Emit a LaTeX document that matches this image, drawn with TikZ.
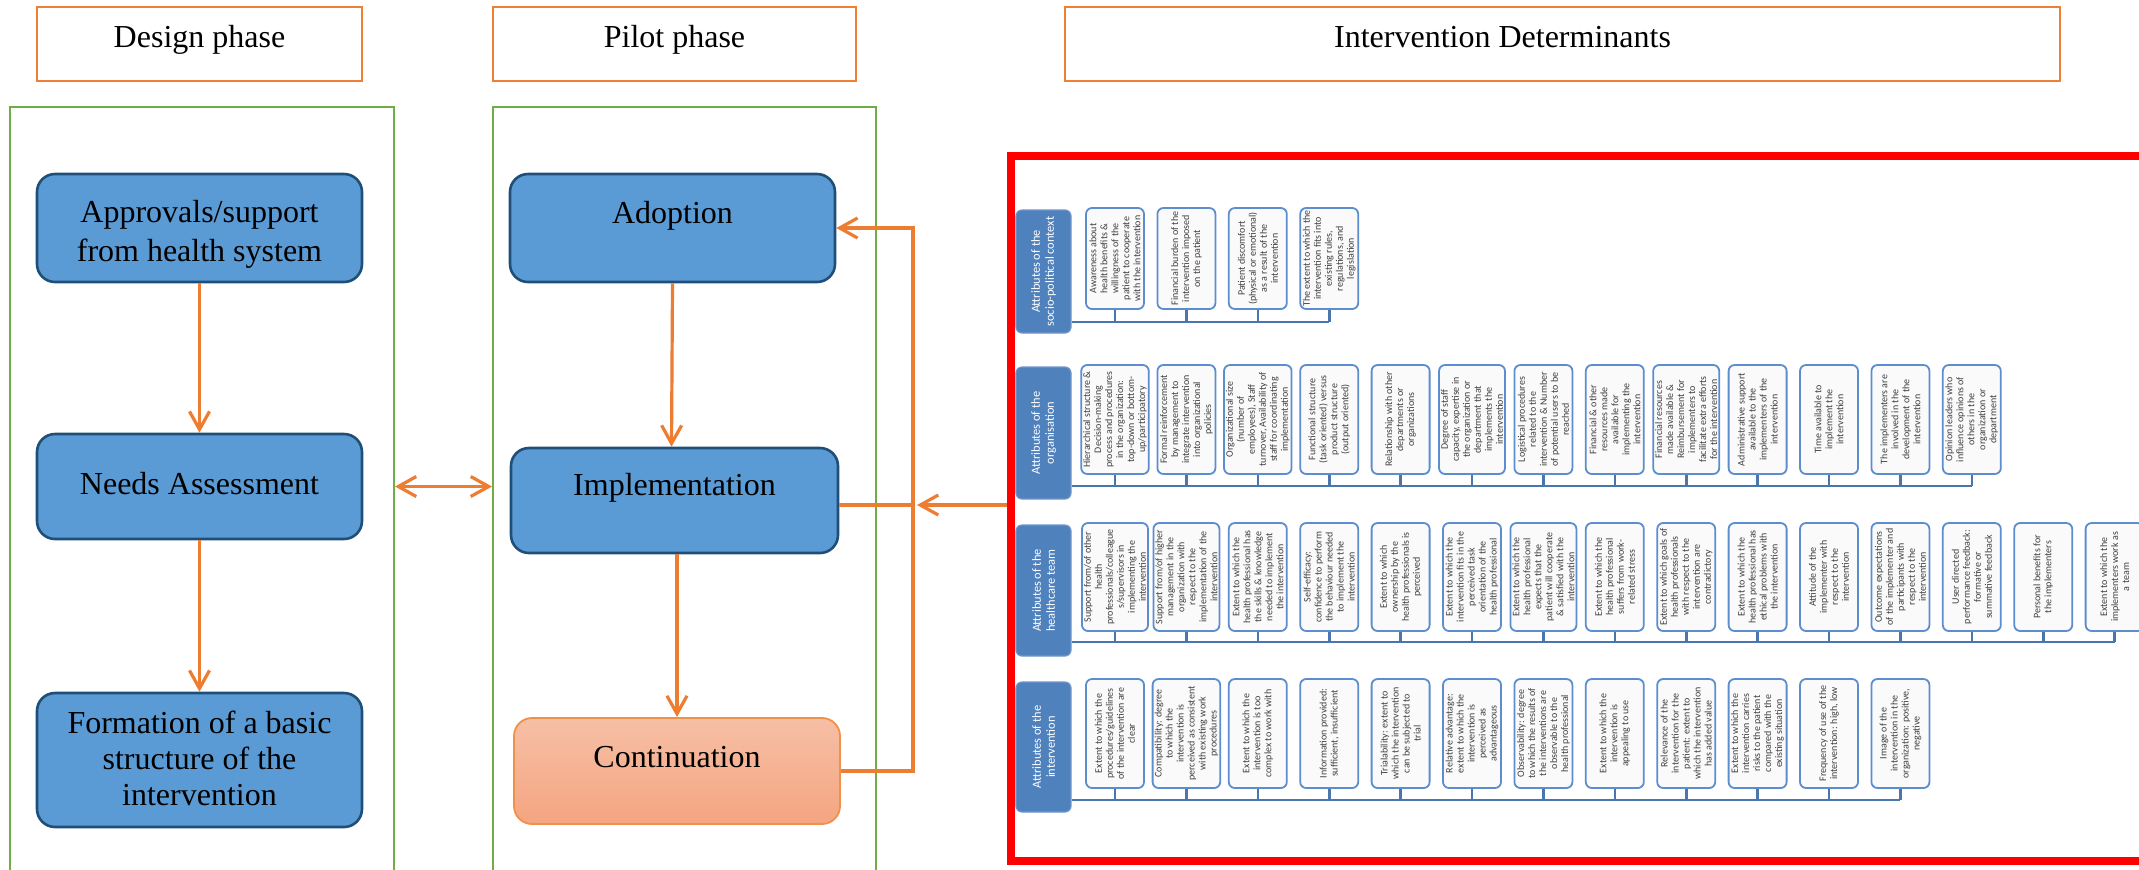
\documentclass[tikz,border=0pt]{standalone}
\usepackage{fontspec}
\setmainfont{Liberation Serif}
\newfontfamily\cardfont{Carlito}
\usetikzlibrary{arrows.meta,calc}

\definecolor{hdrorange}{HTML}{EF7F35}
\definecolor{phasegreen}{HTML}{70AD47}
\definecolor{stepfill}{HTML}{5B9BD5}
\definecolor{stepedge}{HTML}{1F4E79}
\definecolor{flowc}{HTML}{ED7D31}
\definecolor{contTop}{HTML}{F6BFA5}
\definecolor{contBot}{HTML}{F5A581}
\definecolor{contEdge}{HTML}{F0914A}
\definecolor{catfill}{HTML}{4F81BD}
\definecolor{catedge}{HTML}{6E98CC}
\definecolor{cardedge}{HTML}{5B8DCF}
\definecolor{cardfill}{HTML}{FAFAFA}
\definecolor{cardtext}{HTML}{404040}
\definecolor{busline}{HTML}{4A76AE}

\begin{document}
\begin{tikzpicture}[x=0.5pt, y=-0.5pt,
  hdr/.style={draw=hdrorange, line width=1.4pt, minimum height=37pt, inner sep=0pt,
    text height=11pt, text depth=8pt, font=\fontsize{16}{20.5}\selectfont},
  phasebox/.style={draw=phasegreen, line width=1pt, inner sep=0pt, minimum height=446.5pt},
  stepbox/.style={draw=stepedge, fill=stepfill, line width=1.3pt, rounded corners=9pt,
    inner sep=0pt, font=\fontsize{16}{20.5}\selectfont, text height=11pt, text depth=16pt},
  contbox/.style={draw=contEdge, top color=contTop, bottom color=contBot, line width=0.9pt,
    rounded corners=9pt, inner sep=0pt, font=\fontsize{16}{20.5}\selectfont,
    text height=11pt, text depth=15pt},
  steplabel/.style={align=center, inner sep=0pt},
  flow/.style={draw=flowc, line width=1.6pt},
  flowarrow/.style={flow, -{Straight Barb[length=9pt,width=10pt]}},
  flowboth/.style={flow, {Straight Barb[length=9pt,width=10pt]}-{Straight Barb[length=9pt,width=10pt]}},
  frame/.style={draw=red, line width=4pt, inner sep=0pt},
  catbox/.style={fill=catfill, draw=catedge, line width=0.6pt, rounded corners=3pt, rotate=90,
    minimum height=27.5pt, inner sep=1pt, align=center, text=white,
    font=\cardfont\fontsize{6.2}{7}\selectfont},
  card/.style={draw=cardedge, fill=cardfill, line width=0.9pt, rounded corners=3pt, rotate=90,
    minimum height=29pt, inner sep=1pt, align=center, text=cardtext,
    font=\cardfont\fontsize{5}{5.5}\selectfont},
  bus/.style={draw=busline, line width=1.3pt}
]
\useasboundingbox (0,0) rectangle (2139,869);
\clip (0,0) rectangle (2139,869);
\fill[white] (0,0) rectangle (2139,869);

% ---------- column headers ----------
\node[hdr, minimum width=162.5pt] (designhdr) at (199.5,44) {Design phase};
\node[hdr, minimum width=181.5pt] (pilothdr) at (674.5,44) {Pilot phase};
\node[hdr, minimum width=497.5pt] (detshdr) at (1562.5,44) {Intervention Determinants\hspace*{60pt}};

% ---------- phase frames ----------
\node[phasebox, minimum width=192pt] (design) at (202,553.5) {};
\node[phasebox, minimum width=191.5pt] (pilot) at (684.5,553.5) {};

% ---------- design phase steps ----------
\node[stepbox, minimum width=162.5pt, minimum height=54pt,
  label={[steplabel, font=\fontsize{16}{19.5}\selectfont, yshift=-3pt]center:Approvals/support\\from health system}] (appr) at (199.5,228) {};
\node[stepbox, minimum width=162.5pt, minimum height=52.5pt, text depth=3.5pt] (needs) at (199.5,486.5) {Needs Assessment};
\node[stepbox, minimum width=162.5pt, minimum height=67pt,
  label={[steplabel, font=\fontsize{16}{18}\selectfont, yshift=1pt]center:Formation of a basic\\structure of the\\intervention}] (form) at (199.5,760) {};

% ---------- pilot phase steps ----------
\node[stepbox, minimum width=162.5pt, minimum height=54pt] (adopt) at (672.5,228) {Adoption};
\node[stepbox, minimum width=163.5pt, minimum height=52.5pt] (impl) at (674.5,500.5) {Implementation};
\node[contbox, minimum width=163pt, minimum height=53pt] (cont) at (677,771) {Continuation};

% ---------- determinants frame ----------
\node[frame, minimum width=594.5pt, minimum height=352.5pt] (detframe) at (1605.5,508.5) {};

% ---------- flow connectors ----------
\draw[flowarrow] (appr.south) -- (needs.north);
\draw[flowarrow] (needs.south) -- (form.north);
\draw[flowarrow] (adopt.south) -- ([xshift=-1.5pt]impl.north);
\draw[flowarrow] (impl.south -| cont.north) -- (cont.north);
\draw[flowboth] (design.east |- needs) -- (pilot.west |- needs);

\coordinate (fbtop) at (913,228);
\coordinate (fbmid) at (913,505);
\coordinate (fbin) at (917,505);
\draw[flowarrow] (cont.east) -| (fbtop) -- (adopt.east);
\draw[flow, line width=2pt] (impl.east |- fbmid) -- (fbmid);
\draw[flowarrow] (detframe.west |- fbin) -- (fbin);

% ---------- row 1: socio-political context ----------
\coordinate (bus1) at (0,322);
\node[catbox, minimum width=61.5pt] (cat1) at (1043.5,271.5) {Attributes of the\\socio-political context};
\foreach \txt [count=\k from 0] in {
  {Awareness about\\health benefits \&\\willingness of the\\patient to cooperate\\with the intervention},
  {Financial burden of the\\intervention imposed\\on the patient},
  {Patient discomfort\\(physical or emotional)\\as a result of the\\intervention},
  {The extent to which the\\intervention fits into\\existing rules,\\regulations, and\\legislation}}
{
  \node[card, minimum width=50.5pt] (r1c\k) at ({1115+71.4*\k},258.5) {\txt};
  \draw[bus] (r1c\k.west) -- (r1c\k.west |- bus1);
}
\draw[bus] (cat1.south |- bus1) -- (r1c3.west |- bus1);

% ---------- row 2: organisation ----------
\coordinate (bus2) at (0,486);
\node[catbox, minimum width=66pt] (cat2) at (1043.5,433) {Attributes of the\\organisation};
\foreach \txt [count=\k from 0] in {
  {Hierarchical structure \&\\Decision-making\\process and procedures\\in the organization:\\top-down or bottom-\\up/participatory},
  {Formal reinforcement\\by management to\\integrate intervention\\into organizational\\policies},
  {Organizational size\\(number of\\employees), Staff\\turnover, Availability of\\staff for coordinating\\implementation},
  {Functional structure\\(task oriented) versus\\product structure\\(output oriented)},
  {Relationship with other\\departments or\\organizations},
  {Degree of staff\\capacity, expertise in\\the organization or\\department that\\implements the\\intervention},
  {Logistical procedures\\related to the\\intervention \& Number\\of potential users to be\\reached},
  {Financial \& other\\resources made\\available for\\implementing the\\intervention},
  {Financial resources\\made available \&\\Reimbursement for\\implementers to\\facilitate extra efforts\\for the intervention},
  {Administrative support\\available to the\\implementers of the\\intervention},
  {Time available to\\implement the\\intervention},
  {The implementers are\\involved in the\\development of the\\intervention},
  {Opinion leaders who\\influence opinions of\\others in the\\organization or\\department}}
{
  \node[card, minimum width=54.5pt] (r2c\k) at ({1115+71.4*\k},419.5) {\txt};
  \draw[bus] (r2c\k.west) -- (r2c\k.west |- bus2);
}
\draw[bus] (cat2.south |- bus2) -- (r2c12.west |- bus2);

% ---------- row 3: healthcare team ----------
\coordinate (bus3) at (0,642);
\node[catbox, minimum width=65.5pt] (cat3) at (1043.5,590.5) {Attributes of the\\healthcare team};
\foreach \txt [count=\k from 0] in {
  {Support from/of other\\health\\professionals/colleague\\s/supervisors in\\implementing the\\intervention},
  {Support from/of higher\\management in the\\organization with\\respect to the\\implementation of the\\intervention},
  {Extent to which the\\health professional has\\the skills \& knowledge\\needed to implement\\the intervention},
  {Self-efficacy:\\confidence to perform\\the behaviour needed\\to implement the\\intervention},
  {Extent to which\\ownership by the\\health professionals is\\perceived},
  {Extent to which the\\intervention fits in the\\perceived task\\orientation of the\\health professional},
  {Extent to which the\\health professional\\expects that the\\patient will cooperate\\\& satisfied with the\\intervention},
  {Extent to which the\\health professional\\suffers from work-\\related stress},
  {Extent to which goals of\\health professionals\\with respect to the\\intervention are\\contradictory},
  {Extent to which the\\health professional has\\ethical problems with\\the intervention},
  {Attitude of the\\implementer with\\respect to the\\intervention},
  {Outcome expectations\\of the implementer and\\participants with\\respect to the\\intervention},
  {User directed\\performance feedback:\\formative or\\summative feedback},
  {Personal benefits for\\the implementers},
  {Extent to which the\\implementers work as\\a team}}
{
  \node[card, minimum width=54pt] (r3c\k) at ({1115+71.4*\k},577) {\txt};
  \draw[bus] (r3c\k.west) -- (r3c\k.west |- bus3);
}
\draw[bus] (cat3.south |- bus3) -- (r3c14.west |- bus3);

% ---------- row 4: intervention ----------
\coordinate (bus4) at (0,800);
\node[catbox, minimum width=65pt] (cat4) at (1043.5,747) {Attributes of the\\intervention};
\foreach \txt [count=\k from 0] in {
  {Extent to which the\\procedures/guidelines\\of the intervention are\\clear},
  {Compatibility: degree\\to which the\\intervention is\\perceived as consistent\\with existing work\\procedures},
  {Extent to which the\\intervention is too\\complex to work with},
  {Information provided:\\sufficient, insufficient},
  {Trialability: extent to\\which the intervention\\can be subjected to\\trial},
  {Relative advantage:\\extent to which the\\intervention is\\perceived as\\advantageous},
  {Observability: degree\\to which the results of\\the interventions are\\observable to the\\health professional},
  {Extent to which the\\intervention is\\appealing to use},
  {Relevance of the\\intervention for the\\patient: extent to\\which the intervention\\has added value},
  {Extent to which the\\intervention carries\\risks to the patient\\compared with the\\existing situation},
  {Frequency of use of the\\intervention: high, low},
  {Image of the\\intervention in the\\organization: positive,\\negative}}
{
  \node[card, minimum width=54.5pt] (r4c\k) at ({1115+71.4*\k},733.5) {\txt};
  \draw[bus] (r4c\k.west) -- (r4c\k.west |- bus4);
}
\draw[bus] (cat4.south |- bus4) -- (r4c11.west |- bus4);
\end{tikzpicture}
\end{document}
